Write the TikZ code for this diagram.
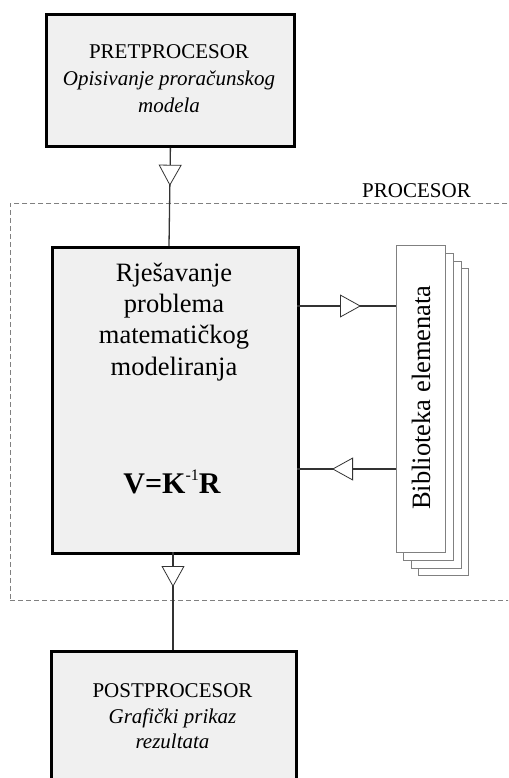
\documentclass[tikz,border=0pt]{standalone}
\usepackage{fontspec}
\setmainfont{Liberation Serif}
\usetikzlibrary{arrows.meta,decorations.markings}
\definecolor{boxfill}{HTML}{F0F0F0}
\definecolor{sheetline}{HTML}{808080}
\definecolor{conn}{HTML}{333333}
\tikzset{
  blockbox/.style={draw=black, line width=2.8pt, fill=boxfill, rectangle, inner sep=0pt, anchor=north west},
  sheet/.style={draw=sheetline, line width=0.9pt, fill=white, rectangle, inner sep=0pt, anchor=north west},
  lbl/.style={anchor=base, inner sep=0pt, font=\fontsize{21}{25}\selectfont},
  lblit/.style={lbl, font=\fontsize{21}{25}\selectfont\itshape},
  mainlbl/.style={anchor=base, inner sep=0pt, font=\fontsize{26.5}{31}\selectfont},
  connector/.style={draw=conn, line width=1.3pt},
  tri/.style={decoration={markings, mark=at position #1 with {\arrow{Triangle[length=21pt,width=23pt,fill=white,line width=0.8pt]}}}, postaction={decorate}},
}
\begin{document}
\begin{tikzpicture}[x=1pt,y=-1pt]
\useasboundingbox (0,0) rectangle (508,778);
\clip (0,0) rectangle (508,778);
% processor region
\node[draw=sheetline, dash pattern=on 5pt off 3pt, line width=0.9pt, rectangle, inner sep=0pt, anchor=north west, minimum width=510pt, minimum height=397pt] (proc) at (10,203) {};
\node[lbl] (proclbl) at (416.5,197) {PROCESOR};
% top box
\node[blockbox, minimum width=248pt, minimum height=132pt] (pre) at (45,13) {};
\node[lbl] (pre1) at (169,59) {PRETPROCESOR};
\node[lblit] (pre2) at (169,86) {Opisivanje proračunskog};
\node[lblit] (pre3) at (169,113) {modela};
% main box
\node[blockbox, minimum width=246pt, minimum height=306pt] (main) at (51,246) {};
\node[mainlbl] (m1) at (174,281) {Rješavanje};
\node[mainlbl] (m2) at (174,312) {problema};
\node[mainlbl] (m3) at (174,343) {matematičkog};
\node[mainlbl] (m4) at (174,375) {modeliranja};
\node[anchor=base, inner sep=0pt, font=\fontsize{30}{34}\selectfont\bfseries] (eq) at (172,493) {V=K\raisebox{0.42em}{\fontsize{16}{16}\selectfont\mdseries -1}R};
% library stack
\node[sheet, minimum width=50pt, minimum height=307pt] (s4) at (418,268) {};
\node[sheet, minimum width=50pt, minimum height=307pt] (s3) at (410.5,260.5) {};
\node[sheet, minimum width=50pt, minimum height=307pt] (s2) at (403,253) {};
\node[sheet, minimum width=49pt, minimum height=307pt] (lib) at (396,245) {};
\node[anchor=base, inner sep=0pt, rotate=90, font=\fontsize{26.5}{31}\selectfont] (libtxt) at (430,397.5) {Biblioteka elemenata};
% bottom box
\node[blockbox, minimum width=245pt, minimum height=150pt] (post) at (50,650) {};
\node[lbl] (post1) at (172.5,697) {POSTPROCESOR};
\node[lblit] (post2) at (172.5,723) {Grafički prikaz};
\node[lblit] (post3) at (172.5,748) {rezultata};
% connectors
\coordinate (mtop) at (169,246);
\draw[connector, tri=38pt] (pre.south) -- (mtop);
\coordinate (mbot) at (173,552);
\coordinate (ptop) at (173,650);
\draw[connector, tri=35pt] (mbot) -- (ptop);
\coordinate (mr1) at (297,306);
\coordinate (lr1) at (396,306);
\draw[connector, tri=64pt] (mr1) -- (lr1);
\coordinate (mr2) at (297,469);
\coordinate (lr2) at (396,469);
\draw[connector, tri=64pt] (lr2) -- (mr2);
\end{tikzpicture}
\end{document}
